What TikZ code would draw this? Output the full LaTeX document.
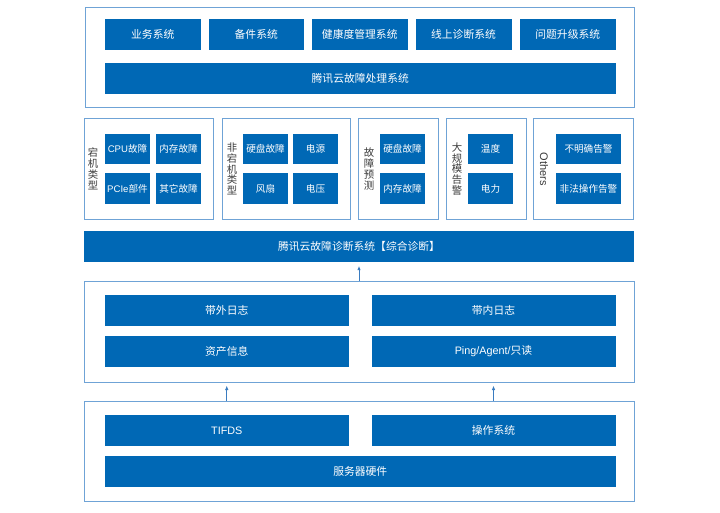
\documentclass[tikz,border=0pt]{standalone}
\usepackage{fontspec}
\setmainfont{Noto Sans CJK SC}
\newfontfamily\lat{Liberation Sans}
\usetikzlibrary{arrows.meta}
\definecolor{cblue}{HTML}{0068B5}
\definecolor{cbord}{HTML}{6FA3D6}
\definecolor{carrow}{HTML}{3A7CC0}
\definecolor{clab}{HTML}{3A3A3A}
\newcommand{\bx}[7][]{\node[#1, minimum width={(#5-#3)*1pt}, minimum height={(#6-#4)*1pt}] (#2) at ({(#3+#5)/2},{(#4+#6)/2}) {#7};}
\begin{document}
\begin{tikzpicture}[x=1pt,y=-1pt,
  frame/.style={draw=cbord, line width=1pt, inner sep=0pt},
  blk/.style={fill=cblue, text=white, inner sep=0pt, font=\fontsize{10.8}{12}\selectfont},
  sblk/.style={fill=cblue, text=white, inner sep=0pt, font=\fontsize{9.6}{11}\selectfont},
  vlab/.style={text=clab, inner sep=0pt, align=center, font=\fontsize{10.4}{10.8}\selectfont},
  arr/.style={draw=carrow, line width=1pt, -{Latex[length=4.5pt,width=3.5pt]}}]
\useasboundingbox (0,0) rectangle (720,512);
% top section
\bx[frame]{topframe}{85}{7}{634}{107}{}
\bx[blk]{yw}{105}{19}{200.5}{50}{业务系统}
\bx[blk]{bj}{208.5}{19}{304}{50}{备件系统}
\bx[blk]{jk}{312}{19}{407.5}{50}{健康度管理系统}
\bx[blk]{xs}{415.5}{19}{511.5}{50}{线上诊断系统}
\bx[blk]{wt}{520}{19}{615.5}{50}{问题升级系统}
\bx[blk]{cl}{105}{63}{615.5}{94}{腾讯云故障处理系统}
% middle categories
\bx[frame]{c1}{84}{118}{213}{219}{}
\bx[frame]{c2}{222}{118}{350}{219}{}
\bx[frame]{c3}{358}{118}{438}{219}{}
\bx[frame]{c4}{446}{118}{526}{219}{}
\bx[frame]{c5}{533}{118}{633}{219}{}
\node[vlab] (l1) at (93,169) {宕\\机\\类\\型};
\node[vlab] (l2) at (232,169) {非\\宕\\机\\类\\型};
\node[vlab] (l3) at (369,169) {故\\障\\预\\测};
\node[vlab] (l4) at (457,169) {大\\规\\模\\告\\警};
\node[vlab, rotate=-90, font=\lat\fontsize{11}{12}\selectfont] (l5) at (544,169) {Others};
\bx[sblk]{a1}{105}{134}{150}{164}{{\lat CPU}故障}
\bx[sblk]{a2}{156}{134}{201}{164}{内存故障}
\bx[sblk]{a3}{105}{173}{150}{204}{{\lat PCIe}部件}
\bx[sblk]{a4}{156}{173}{201}{204}{其它故障}
\bx[sblk]{b1}{243}{134}{288}{164}{硬盘故障}
\bx[sblk]{b2}{293}{134}{338}{164}{电源}
\bx[sblk]{b3}{243}{173}{288}{204}{风扇}
\bx[sblk]{b4}{293}{173}{338}{204}{电压}
\bx[sblk]{d1}{380}{134}{425}{164}{硬盘故障}
\bx[sblk]{d2}{380}{173}{425}{204}{内存故障}
\bx[sblk]{e1}{468}{134}{513}{164}{温度}
\bx[sblk]{e2}{468}{173}{513}{204}{电力}
\bx[sblk]{f1}{556}{134}{621}{164}{不明确告警}
\bx[sblk]{f2}{556}{173}{621}{204}{非法操作告警}
% diagnosis bar
\bx[blk]{diag}{84}{231}{634}{262}{腾讯云故障诊断系统【综合诊断】}
% info section
\bx[frame]{info}{84}{281}{634}{382}{}
\bx[blk]{bw}{105}{295}{348.5}{326}{带外日志}
\bx[blk]{bn}{371.5}{295}{615.5}{326}{带内日志}
\bx[blk]{zc}{105}{336}{348.5}{367}{资产信息}
\bx[blk]{pg}{371.5}{336}{615.5}{367}{{\lat Ping/Agent/}只读}
% bottom section
\bx[frame]{hwframe}{84}{401}{634}{501}{}
\bx[blk]{tf}{105}{415}{348.5}{446}{{\lat TIFDS}}
\bx[blk]{os}{371.5}{415}{615.5}{446}{操作系统}
\bx[blk]{hw}{105}{456}{615.5}{487}{服务器硬件}
% arrows
\draw[arr, shorten >=3.5pt] (info.north -| diag.south) -- (diag.south);
\draw[arr, shorten >=3pt] (hwframe.north -| tf.north) -- (info.south -| tf.north);
\draw[arr, shorten >=3pt] (hwframe.north -| os.north) -- (info.south -| os.north);
\end{tikzpicture}
\end{document}
